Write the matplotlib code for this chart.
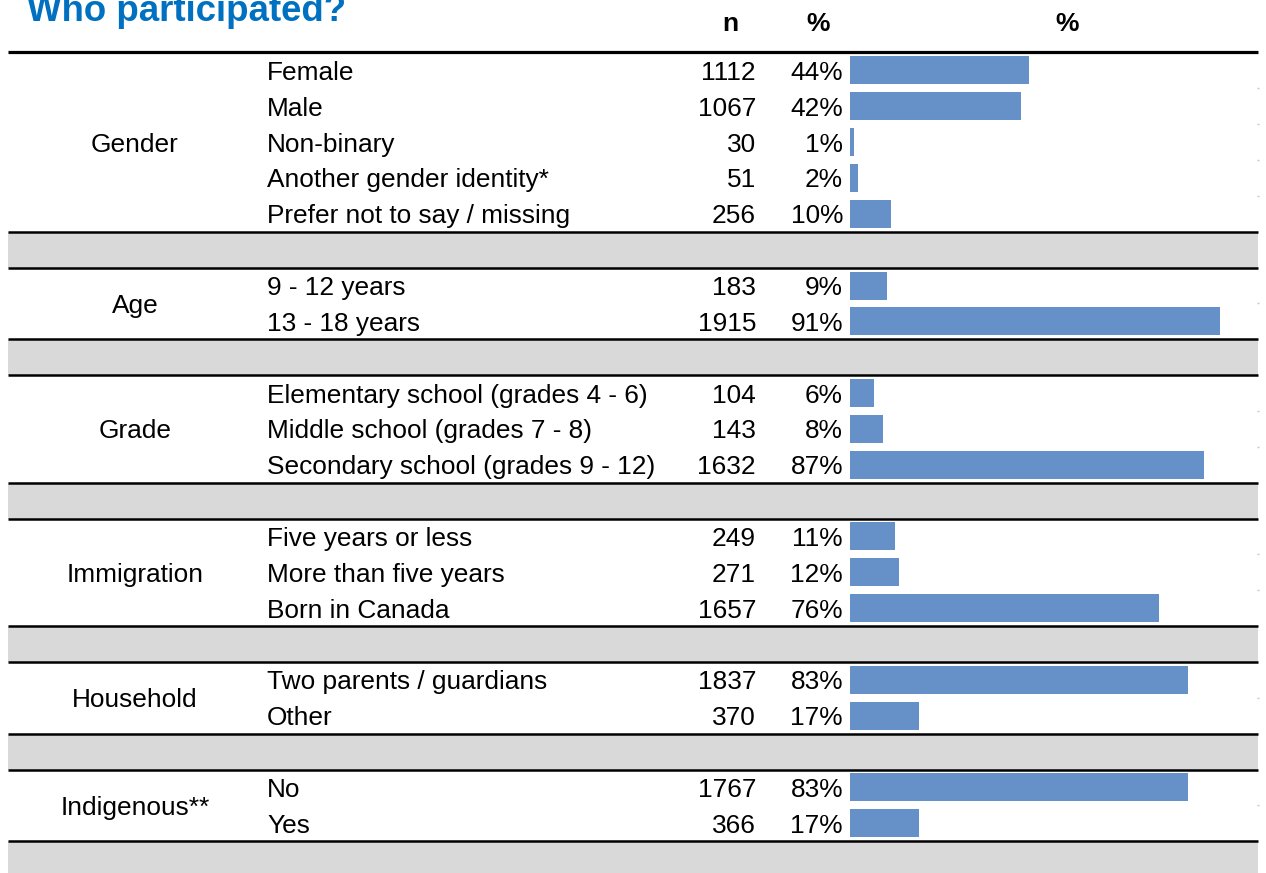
import matplotlib
matplotlib.use("Agg")
import matplotlib.pyplot as plt

plt.rcParams['font.family'] = ['Liberation Sans', 'DejaVu Sans']

# dados
group_names = ['Gender', 'Age', 'Grade', 'Immigration', 'Household', 'Indigenous**']

gender_cats = ['Female', 'Male', 'Non-binary', 'Another gender identity*', 'Prefer not to say / missing']
gender_n = [1112, 1067, 30, 51, 256]
gender_pct = [44, 42, 1, 2, 10]

age_cats = ['9 - 12 years', '13 - 18 years']
age_n = [183, 1915]
age_pct = [9, 91]

grade_cats = ['Elementary school (grades 4 - 6)', 'Middle school (grades 7 - 8)',
              'Secondary school (grades 9 - 12)']
grade_n = [104, 143, 1632]
grade_pct = [6, 8, 87]

immig_cats = ['Five years or less', 'More than five years', 'Born in Canada']
immig_n = [249, 271, 1657]
immig_pct = [11, 12, 76]

house_cats = ['Two parents / guardians', 'Other']
house_n = [1837, 370]
house_pct = [83, 17]

indig_cats = ['No', 'Yes']
indig_n = [1767, 366]
indig_pct = [83, 17]

groups = list(zip(group_names,
                  [gender_cats, age_cats, grade_cats, immig_cats, house_cats, indig_cats],
                  [gender_n, age_n, grade_n, immig_n, house_n, indig_n],
                  [gender_pct, age_pct, grade_pct, immig_pct, house_pct, indig_pct]))

# layout (pixels)
W, H = 1266, 873
Y0, RH = 52.5, 35.85          # topo da tabela, altura da linha
X_L, X_R = 8, 1258            # extensao da tabela
BAR_X0, BAR_W = 850, 407      # area das barras para 0-100 %
FS = 18.9
BAR_COLOR = '#6690C8'
GRAY = '#D9D9D9'

ylim = ((H - Y0) / RH, -Y0 / RH)

fig = plt.figure(figsize=(W / 100, H / 100), dpi=100)
ax = fig.add_axes([0, 0, 1, 1])
ax.set_xlim(0, W)
ax.set_ylim(*ylim)
ax.axis('off')

bx = fig.add_axes([BAR_X0 / W, 0, BAR_W / W, 1])
bx.set_xlim(0, 100)
bx.set_ylim(*ylim)
bx.axis('off')

# titulo e cabecalhos
ax.text(27, -31.5 / RH, 'Who participated?', fontsize=26.4, fontweight='bold',
        color='#0070C0', ha='left', va='baseline')
hy = (22 - Y0) / RH
ax.text(730, hy, 'n', fontsize=19, fontweight='bold', ha='center', va='center_baseline')
ax.text(818, hy, '%', fontsize=19, fontweight='bold', ha='center', va='center_baseline')
ax.text(1067, hy, '%', fontsize=19, fontweight='bold', ha='center', va='center_baseline')

ax.hlines(0, X_L, X_R, color='black', lw=2.3)

row = 0
for name, cats, ns, pcts in groups:
    start = row
    for cat, n, p in zip(cats, ns, pcts):
        yc = row + 0.5
        ax.text(267, yc, cat, fontsize=FS, ha='left', va='center_baseline')
        ax.text(756, yc, f'{n}', fontsize=FS, ha='right', va='center_baseline')
        ax.text(843, yc, f'{p}%', fontsize=FS, ha='right', va='center_baseline')
        if row > start:
            ax.hlines(row, X_R - 1, X_R + 1, color='#C8C8C8', lw=1)
        row += 1
    bx.barh([start + 0.5 + k for k in range(len(pcts))], pcts, height=0.78,
            color=BAR_COLOR, left=0)
    ax.text(135, (start + row) / 2, name, fontsize=FS, ha='center', va='center_baseline')
    # faixa cinza
    ax.fill_between([X_L, X_R], row, row + 1, color=GRAY, lw=0)
    ax.hlines(row, X_L, X_R, color='black', lw=1.8)
    if name != group_names[-1]:
        ax.hlines(row + 1, X_L, X_R, color='black', lw=1.8)
    row += 1

fig.savefig('out.png', dpi=100)
